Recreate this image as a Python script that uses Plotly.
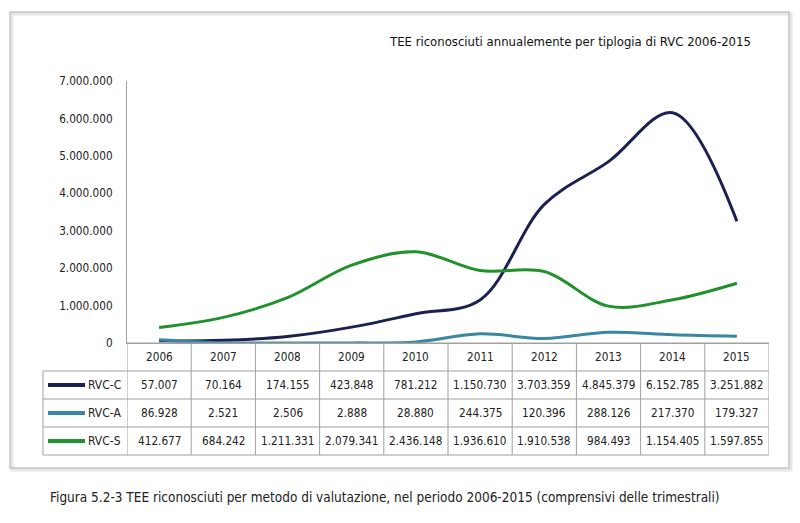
import plotly.graph_objects as go

years = ["2006", "2007", "2008", "2009", "2010", "2011", "2012", "2013", "2014", "2015"]
rvc_c = [57007, 70164, 174155, 423848, 781212, 1150730, 3703359, 4845379, 6152785, 3251882]
rvc_a = [86928, 2521, 2506, 2888, 28880, 244375, 120396, 288126, 217370, 179327]
rvc_s = [412677, 684242, 1211331, 2079341, 2436148, 1936610, 1910538, 984493, 1154405, 1597855]
series_names = ["RVC-C", "RVC-A", "RVC-S"]
series_values = [rvc_c, rvc_a, rvc_s]
y_ticks = [0, 1000000, 2000000, 3000000, 4000000, 5000000, 6000000, 7000000]

colors = ["#1b2150", "#3a87a3", "#21912c"]
FONT = "DejaVu Sans Condensed, Liberation Sans Narrow, sans-serif"

W, H = 800, 523
L, R, T, B = 127, 31, 81, 180
pw, ph = W - L - R, H - T - B


def px(x):
    return (x - L) / pw


def py(y):
    return (H - B - y) / ph


def fmt(v):
    return f"{v:,}".replace(",", ".")


fig = go.Figure()
for name, vals, col in zip(series_names, series_values, colors):
    fig.add_trace(go.Scatter(x=years, y=vals, name=name, mode="lines",
                             line=dict(color=col, width=3, shape="spline", smoothing=1.0)))

shapes = []
ann = []
# outer frame
shapes.append(dict(type="rect", xref="paper", yref="paper", x0=px(12), x1=px(791), y0=py(470), y1=py(14),
                   line=dict(color="#e6e6e6", width=3), layer="below"))
shapes.append(dict(type="rect", xref="paper", yref="paper", x0=px(10), x1=px(789), y0=py(468), y1=py(12),
                   line=dict(color="#c4c4c4", width=1.5), layer="below"))

# table grid
rows_px = [343, 371, 399, 427, 455]
grid = "#a0a0a0"
shapes.append(dict(type="line", xref="paper", yref="paper", x0=0, x1=1, y0=py(rows_px[0]), y1=py(rows_px[0]),
                   line=dict(color=grid, width=1)))
for r in rows_px[1:]:
    shapes.append(dict(type="line", xref="paper", yref="paper", x0=px(43), x1=1, y0=py(r), y1=py(r),
                       line=dict(color=grid, width=1)))
for i in range(len(years) + 1):
    shapes.append(dict(type="line", xref="x", yref="paper", x0=i - 0.5, x1=i - 0.5,
                       y0=py(rows_px[0]), y1=py(rows_px[-1]), line=dict(color=grid, width=1)))
shapes.append(dict(type="line", xref="paper", yref="paper", x0=px(43), x1=px(43),
                   y0=py(rows_px[1]), y1=py(rows_px[-1]), line=dict(color=grid, width=1)))

TS = 11.7
# header
for i, yr in enumerate(years):
    ann.append(dict(x=i, xref="x", yref="paper", y=py((rows_px[0] + rows_px[1]) / 2), text=yr,
                    xanchor="center", yanchor="middle",
                    showarrow=False, font=dict(family=FONT, size=TS, color="#222")))
# rows
for k, (name, vals, col) in enumerate(zip(series_names, series_values, colors)):
    yc = (rows_px[k + 1] + rows_px[k + 2]) / 2
    for i, v in enumerate(vals):
        ann.append(dict(x=i, xref="x", yref="paper", y=py(yc), text=fmt(v), showarrow=False,
                        xanchor="center", yanchor="middle",
                        font=dict(family=FONT, size=TS, color="#222")))
    shapes.append(dict(type="line", xref="paper", yref="paper", x0=px(48), x1=px(85), y0=py(yc), y1=py(yc),
                       line=dict(color=col, width=4)))
    ann.append(dict(x=px(123), xref="paper", yref="paper", y=py(yc), text=name, showarrow=False,
                    xanchor="right", yanchor="middle", font=dict(family=FONT, size=12, color="#222")))

# title and caption
ann.append(dict(x=px(753), y=py(42), xref="paper", yref="paper", xanchor="right", yanchor="middle",
                showarrow=False,
                text="TEE riconosciuti annualemente per tiplogia di RVC 2006-2015",
                font=dict(family=FONT, size=13, color="#111")))
ann.append(dict(x=px(48), y=py(497), xref="paper", yref="paper", xanchor="left", yanchor="middle",
                showarrow=False,
                text="Figura 5.2-3 TEE riconosciuti per metodo di valutazione, nel periodo 2006-2015 (comprensivi delle trimestrali)",
                font=dict(family=FONT, size=13.5, color="#222")))

fig.update_layout(
    width=W, height=H, margin=dict(l=L, r=R, t=T, b=B),
    paper_bgcolor="white", plot_bgcolor="white", showlegend=False,
    separators=",.", shapes=shapes, annotations=ann,
    font=dict(family=FONT, size=12, color="#222"),
)
fig.update_xaxes(type="category", range=[-0.5, 9.5], showticklabels=False, showgrid=False,
                 showline=True, linecolor="#a0a0a0", linewidth=1, zeroline=False, ticks="")
fig.update_yaxes(range=[0, 7000000], tickvals=y_ticks, tickformat=",d", showgrid=False,
                 showline=True, linecolor="#a0a0a0", linewidth=1, zeroline=False, ticks="",
                 ticklabelstandoff=11, tickfont=dict(family=FONT, size=11.7, color="#222"))

fig.write_html("out.html")
